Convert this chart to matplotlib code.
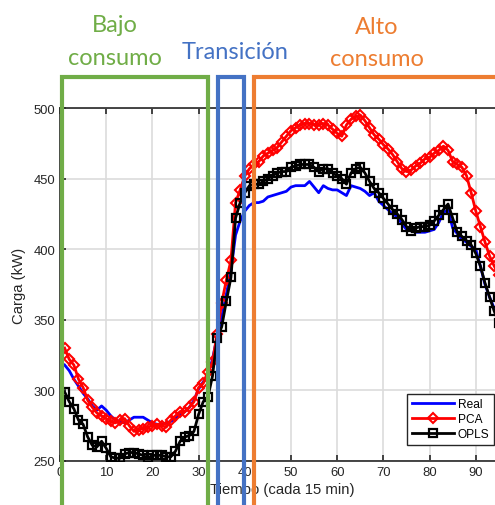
import numpy as np
import matplotlib
matplotlib.use("Agg")
import matplotlib.pyplot as plt
from matplotlib.patches import Rectangle

# Load profile, one sample every 15 minutes (96 per day)
tiempo = np.arange(1, 97)

real = [318, 314, 308, 303, 298, 294, 289, 286, 289, 286,
        282, 279, 278, 277, 279, 281, 281, 281, 279, 277,
        276, 276, 277, 278, 280, 283, 285, 288, 293, 301,
        306, 311, 322, 338, 352, 368, 385, 410, 420, 427,
        431, 433, 433, 434, 437, 438, 439, 440, 441, 444,
        445, 445, 445, 448, 444, 440, 445, 443, 442, 442,
        440, 438, 445, 444, 443, 441, 438, 440, 434, 431,
        428, 425, 423, 418, 414, 413, 412, 412, 412, 413,
        414, 419, 426, 428, 415, 411, 407, 405, 402, 400,
        388, 375, 366, 358, 350, 342]

pca = [330, 322, 318, 308, 302, 293, 288, 284, 282, 280,
       278, 277, 279, 280, 275, 271, 272, 273, 274, 275,
       276, 275, 274, 279, 282, 285, 285, 288, 292, 302,
       305, 313, 320, 340, 362, 378, 392, 433, 442, 452,
       457, 460, 462, 466, 468, 470, 472, 476, 480, 484,
       486, 488, 489, 489, 488, 488, 489, 488, 485, 482,
       480, 488, 492, 494, 495, 491, 486, 481, 478, 474,
       471, 467, 462, 457, 455, 456, 459, 461, 464, 465,
       468, 470, 473, 470, 462, 460, 458, 452, 440, 427,
       416, 405, 395, 388, 382, 376]

opls = [299, 292, 287, 279, 276, 267, 261, 260, 264, 259,
        253, 252, 252, 255, 256, 256, 255, 254, 252, 254,
        254, 254, 253, 253, 257, 264, 267, 268, 271, 283,
        292, 295, 310, 337, 345, 363, 380, 422, 433, 440,
        445, 446, 446, 448, 450, 452, 454, 455, 455, 458,
        459, 460, 460, 460, 458, 455, 457, 457, 454, 452,
        450, 446, 454, 457, 458, 454, 448, 443, 440, 436,
        432, 428, 425, 421, 416, 413, 415, 416, 416, 417,
        420, 424, 428, 432, 422, 412, 409, 406, 403, 397,
        388, 376, 366, 356, 348, 340]

# Consumption regimes: (x start, x end, colour)
regiones = [
    (0.4, 32.1, "#70AD47"),
    (34.3, 39.9, "#4472C4"),
    (42.0, 120.0, "#ED7D31"),
]

W, H = 495, 506
fig = plt.figure(figsize=(W / 100, H / 100), dpi=100)
ax = fig.add_axes([60 / W, 44 / H, 443.5 / W, 353 / H])

ax.plot(tiempo, real, color="blue", lw=2.0, label="Real", zorder=3)
ax.plot(tiempo, pca, color="red", lw=2.0, marker="D", ms=5.2, mfc="none",
        mew=1.5, label="PCA", zorder=4)
ax.plot(tiempo, opls, color="black", lw=2.0, marker="s", ms=5.2, mfc="none",
        mew=1.6, label="OPLS", zorder=5)

ax.set_xlim(0, 96)
ax.set_ylim(250, 500)
ax.set_xticks(np.arange(0, 91, 10))
ax.set_yticks(np.arange(250, 501, 50))
ax.grid(True, color="#dcdcdc", lw=1.2)
ax.set_axisbelow(True)
ax.tick_params(direction="in", top=True, length=4, width=1.2,
               labelsize=9.4, colors="#262626")
for s in ["top", "left", "bottom"]:
    ax.spines[s].set_color("#262626")
    ax.spines[s].set_linewidth(1.2)

font = "Liberation Sans"
for lab in ax.get_xticklabels() + ax.get_yticklabels():
    lab.set_family(font)
ax.set_xlabel("Tiempo (cada 15 min)", family=font, fontsize=10.7,
              color="#262626", labelpad=3)
ax.set_ylabel("Carga (kW)", family=font, fontsize=10.7, color="#262626",
              labelpad=5)

leg = ax.legend(loc="lower right", bbox_to_anchor=(0.992, 0.028),
                prop={"family": font, "size": 8.6}, handlelength=3.5,
                handletextpad=0.3, labelspacing=0.25, borderpad=0.4,
                fancybox=False, framealpha=1)
leg.get_frame().set_edgecolor("#262626")
leg.get_frame().set_linewidth(1.0)

# Region boxes, open at the bottom, with their titles above
trans = ax.get_xaxis_transform()
top = (462 - 78) / 353
for x0, x1, color in regiones:
    ax.add_patch(Rectangle((x0, -0.3), x1 - x0, top + 0.3, transform=trans,
                           fill=False, ec=color, lw=3.0, clip_on=False,
                           zorder=10))

titulos = [
    ("Bajo", 115, 32, "#70AD47"),
    ("consumo", 115, 65, "#70AD47"),
    ("Transición", 235, 59, "#4472C4"),
    ("Alto", 377, 34, "#ED7D31"),
    ("consumo", 377, 66, "#ED7D31"),
]
for texto, px, py, color in titulos:
    fig.text(px / W, 1 - py / H, texto, color=color, family="Lato",
             fontsize=17, ha="center", va="baseline")

fig.savefig("out.png", dpi=100)
